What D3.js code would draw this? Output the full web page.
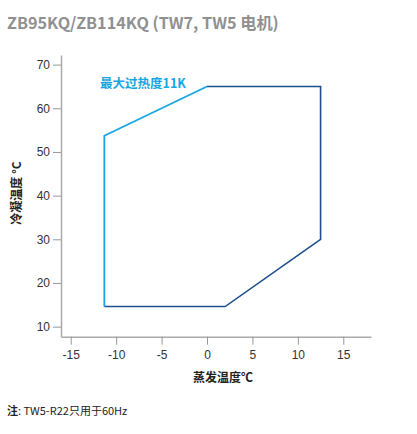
<!DOCTYPE html>
<meta charset="utf-8">
<head>
    <script src="https://d3js.org/d3.v7.min.js"></script>
    <style>
        body { margin: 0; background: #fff; font-family: "Noto Sans", "Noto Sans CJK SC", sans-serif; }
    </style>
</head>
<body>
    <svg></svg>
    <script>
        // Data
        var xTicks = [-15, -10, -5, 0, 5, 10, 15];
        var yTicks = [10, 20, 30, 40, 50, 60, 70];
        // light blue part of the envelope (max superheat 11K)
        var superheatEdge = [[-11.3, 14.6], [-11.3, 53.7], [0, 65]];
        // dark blue part of the envelope
        var envelopeEdge = [[0, 65], [12.5, 65], [12.5, 30], [2, 14.6], [-11.3, 14.6]];

        var width = 417, height = 434;
        var svg = d3.select('svg').attr('width', width).attr('height', height);

        var x = d3.scaleLinear().domain([-16.07, 18.05]).range([61, 371]);
        var y = d3.scaleLinear().domain([7.7, 72.2]).range([336.7, 55]);

        var axisColor = '#aaa';

        // title
        svg.append('text')
            .attr('x', 7).attr('y', 29)
            .style('font-family', '"Noto Sans CJK SC", "Noto Sans", sans-serif')
            .style('font-size', '16.2px').style('font-weight', 'bold')
            .style('fill', '#909090')
            .text('ZB95KQ/ZB114KQ (TW7, TW5 电机)');

        // axes (plain hyphen for negatives, as in the original)
        var fmt = function (d) { return String(d); };
        var xAxis = svg.append('g')
            .attr('transform', 'translate(0,' + y.range()[0] + ')')
            .call(d3.axisBottom(x).tickValues(xTicks).tickFormat(fmt).tickSize(8).tickPadding(6).tickSizeOuter(0));
        var yAxis = svg.append('g')
            .attr('transform', 'translate(' + x.range()[0] + ',0)')
            .call(d3.axisLeft(y).tickValues(yTicks).tickFormat(fmt).tickSize(8).tickPadding(3).tickSizeOuter(0));

        [xAxis, yAxis].forEach(function (a) {
            a.select('.domain').attr('stroke', axisColor).attr('stroke-width', 1.5);
            a.selectAll('.tick line').attr('stroke', '#999');
            a.selectAll('.tick text')
                .style('font-family', '"Liberation Sans", Arial, sans-serif')
                .style('font-size', '12px').style('fill', '#333');
        });

        var line = d3.line().x(function (d) { return x(d[0]); }).y(function (d) { return y(d[1]); });

        svg.append('path').datum(envelopeEdge)
            .attr('d', line).attr('fill', 'none')
            .attr('stroke', '#1d4f8d').attr('stroke-width', 1.6);
        svg.append('path').datum(superheatEdge)
            .attr('d', line).attr('fill', 'none')
            .attr('stroke', '#16a5e3').attr('stroke-width', 1.8);

        svg.append('text')
            .attr('x', 100).attr('y', 88)
            .style('font-family', '"Noto Sans CJK SC", sans-serif')
            .style('font-size', '12.5px').style('font-weight', 'bold')
            .style('fill', '#16a5e3')
            .text('最大过热度11K');

        // axis labels
        svg.append('text')
            .attr('x', 223).attr('y', 382)
            .attr('text-anchor', 'middle')
            .style('font-family', '"Noto Sans CJK SC", sans-serif')
            .style('font-size', '12px').style('font-weight', 'bold')
            .style('fill', '#222')
            .text('蒸发温度℃');

        svg.append('text')
            .attr('transform', 'translate(21,193) rotate(-90)')
            .attr('text-anchor', 'middle')
            .style('font-family', '"Noto Sans CJK SC", sans-serif')
            .style('font-size', '12px').style('font-weight', 'bold')
            .style('fill', '#222')
            .text('冷凝温度 °C');

        // footnote
        var note = svg.append('text')
            .attr('x', 7).attr('y', 415)
            .style('font-family', '"Noto Sans CJK SC", sans-serif')
            .style('font-size', '11px').style('fill', '#222');
        note.append('tspan').style('font-weight', 'bold').text('注');
        note.append('tspan').text(': TW5-R22只用于60Hz');
    </script>
</body>
